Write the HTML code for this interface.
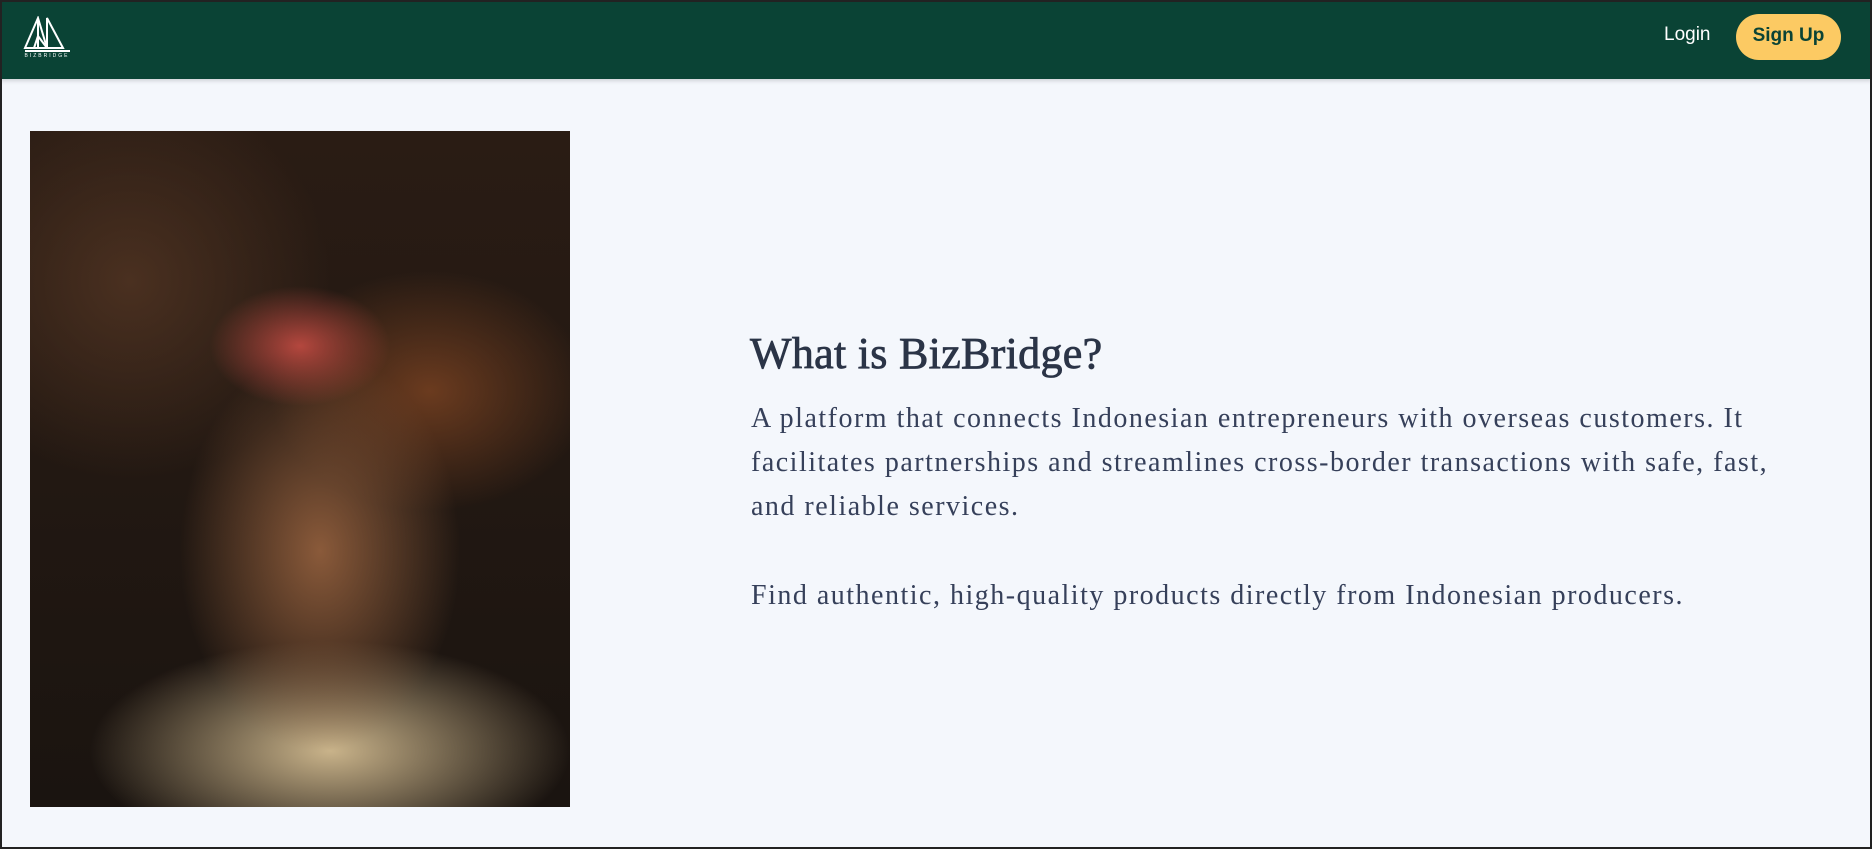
<!DOCTYPE html>
<html><head><meta charset="utf-8"><style>
*{margin:0;padding:0;box-sizing:border-box}
body{width:1872px;height:849px;background:#f4f7fc;overflow:hidden;position:relative;font-family:"Liberation Serif",serif}
.frame{position:absolute;left:0;top:0;width:1872px;height:849px;border:2px solid #222;pointer-events:none}
.hdr{position:absolute;left:0;top:0;width:1872px;height:79px;background:#0a4335;box-shadow:0 2px 4px rgba(0,0,0,.15)}
.login{position:absolute;left:1664px;top:24px;color:#fff;font:19px "Liberation Sans",sans-serif}
.btn{position:absolute;left:1736px;top:14px;width:105px;height:46px;border-radius:23px;background:#fcca63;color:#0a4335;font:bold 19px "Liberation Sans",sans-serif;text-align:center;line-height:44px}
.img{position:absolute;left:30px;top:131px;width:540px;height:676px;background:
radial-gradient(ellipse 90px 60px at 270px 215px,#b4473e,transparent),
radial-gradient(ellipse 140px 200px at 290px 420px,#8a5a3a,transparent),
radial-gradient(ellipse 240px 110px at 300px 620px,#c9b38a,transparent),
radial-gradient(ellipse 160px 120px at 400px 260px,#6b3b1f,transparent),
radial-gradient(ellipse 200px 200px at 100px 150px,#4a3020,transparent),
linear-gradient(180deg,#2a1c14,#1a1410)}
h1{position:absolute;left:750px;top:328px;font-size:44px;font-weight:normal;color:#2b3447;letter-spacing:.3px;-webkit-text-stroke:0.8px #2b3447}
.p{position:absolute;left:751px;color:#36405a;font-size:28px;white-space:nowrap;letter-spacing:1.5px}
</style></head><body>
<div class="hdr">
<svg style="position:absolute;left:23px;top:16px" width="48" height="42" viewBox="0 0 48 42"><g fill="none" stroke="#fff" stroke-width="2"><path d="M15 2 L2 32 H24 Z"/><path d="M15 2 L15 32"/><path d="M24 2 L24 32 L40 32 Z"/><path d="M11 32 L15 20 L24 32"/></g><rect x="2" y="34" width="45" height="2" fill="#fff"/><text x="24" y="41" font-size="5" fill="#fff" text-anchor="middle" font-family="Liberation Sans" letter-spacing="2">BIZBRIDGE</text></svg>
<div class="login">Login</div>
<div class="btn">Sign Up</div>
</div>
<div class="img"></div>
<h1>What is BizBridge?</h1>
<div class="p" style="top:403px">A platform that connects Indonesian entrepreneurs with overseas customers. It</div>
<div class="p" style="top:447px">facilitates partnerships and streamlines cross-border transactions with safe, fast,</div>
<div class="p" style="top:491px">and reliable services.</div>
<div class="p" style="top:580px">Find authentic, high-quality products directly from Indonesian producers.</div>
<div class="frame"></div>
</body></html>
